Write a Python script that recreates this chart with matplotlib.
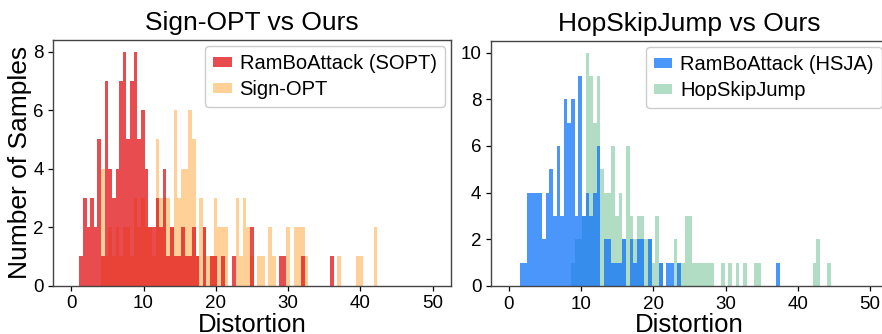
import matplotlib
matplotlib.use("Agg")
import matplotlib.pyplot as plt
import numpy as np

plt.rcParams['font.family'] = ['Liberation Sans', 'DejaVu Sans']

# ---------------- data ----------------
# Left panel: Sign-OPT vs Ours (shared histogram grid)
sopt_bin_start = 1.10
sopt_bin_width = 0.503
rambo_sopt_counts = [1, 3, 2, 3, 2, 5, 1, 7, 4, 3,
                     4, 7, 8, 5, 7, 8, 5, 6, 4, 2,
                     2, 3, 2, 4, 1, 2, 1, 1, 2, 1,
                     1, 2, 1, 0, 2, 0, 1, 1, 0, 1,
                     0, 0, 1, 0, 0, 0, 0, 2, 0, 0,
                     0, 0, 0, 0, 0, 1, 1, 0, 0, 0,
                     0, 1, 0, 0, 0, 0, 0, 0, 0, 1]
signopt_first_bin = 6
signopt_counts = [4, 1, 2, 1, 2, 1, 2, 2, 1, 3,
                  2, 3, 2, 2, 1, 5, 3, 3, 3, 2,
                  6, 3, 4, 4, 6, 5, 1, 3, 2, 1,
                  1, 3, 2, 2, 2, 0, 0, 3, 1, 3,
                  2, 1, 0, 1, 1, 0, 2, 1, 0, 0,
                  0, 2, 0, 2, 2, 2, 1, 0, 0, 0,
                  0, 0, 0, 0, 0, 1, 0, 0, 0, 0,
                  1, 1, 0, 0, 0, 2]

# Right panel: HopSkipJump vs Ours
hsja_bin_start = 1.52
hsja_bin_width = 0.5066
rambo_hsja_counts = [1, 1, 4, 4, 4, 4, 2, 4, 5, 3,
                     6, 3, 8, 7, 8, 3, 9, 3, 4, 3,
                     4, 6, 0, 2, 2, 1, 1, 1, 2, 0,
                     2, 1, 2, 2, 0, 2, 0, 0, 1, 0,
                     1, 1, 0, 1, 0, 0, 0, 0, 0, 0,
                     0, 0, 0, 0, 0, 0, 0, 0, 0, 0,
                     0, 0, 0, 0, 0, 0, 0, 0, 0, 0,
                     1]
hopskip_first_bin = 14
hopskip_counts = [1, 2, 2, 3,
                  10, 9, 7, 9,
                  5, 4, 4, 6, 3, 4, 2, 6, 3, 2, 3, 3,
                  2, 2, 1, 3, 1, 0, 0, 0, 2, 1, 1, 3, 3,
                  1, 1, 1, 1, 1, 1,
                  0, 0, 1, 0, 1, 0, 1, 0, 1, 0, 0, 1, 1,
                  0, 0, 0, 0, 0, 0, 0, 0, 0, 0, 0, 0, 0, 0,
                  1, 2, 0, 0, 1]

x_ticks = [0, 10, 20, 30, 40, 50]
left_yticks = [0, 2, 4, 6, 8]
right_yticks = [0, 2, 4, 6, 8, 10]

# ---------------- style ----------------
red = '#e41a1c'
orange = 'darkorange'
blue = (0.05, 0.45, 0.98)
green = (0.235, 0.667, 0.43)

W, H = 882, 334
fig = plt.figure(figsize=(W / 100, H / 100), dpi=100)
ax1 = fig.add_axes([53.3 / W, 1 - 285.7 / H, (450.7 - 53.3) / W, (285.7 - 40) / H])
ax2 = fig.add_axes([491 / W, 1 - 286 / H, (888 - 491) / W, (286 - 41) / H])


def draw(ax, start, width, under, under_first, over, over_color, under_color,
         over_alpha, under_alpha, labels):
    under_left = start + width * (under_first + np.arange(len(under)))
    over_left = start + width * np.arange(len(over))
    b_under = ax.bar(under_left, under, width=width, align='edge',
                     color=under_color, alpha=under_alpha, linewidth=0)
    b_over = ax.bar(over_left, over, width=width, align='edge',
                    color=over_color, alpha=over_alpha, linewidth=0)
    leg = ax.legend([b_over, b_under], labels, loc='upper right', fontsize=14.5,
                    handlelength=0.9, handleheight=0.35, handletextpad=0.4,
                    borderaxespad=0.3, borderpad=0.4, labelspacing=0.35,
                    edgecolor='#cccccc', framealpha=1.0)
    return leg


draw(ax1, sopt_bin_start, sopt_bin_width, signopt_counts, signopt_first_bin,
     rambo_sopt_counts, red, orange, 0.78, 0.4,
     ['RamBoAttack (SOPT)', 'Sign-OPT'])
draw(ax2, hsja_bin_start, hsja_bin_width, hopskip_counts, hopskip_first_bin,
     rambo_hsja_counts, blue, green, 0.75, 0.4,
     ['RamBoAttack (HSJA)', 'HopSkipJump'])

for ax, yt, ytop in [(ax1, left_yticks, 8.4), (ax2, right_yticks, 10.5)]:
    ax.set_xlim(-2.49, 52.5)
    ax.set_ylim(0, ytop)
    ax.set_xticks(x_ticks)
    ax.set_yticks(yt)
    ax.tick_params(labelsize=13.5, length=3.5, width=0.9)
    for s in ax.spines.values():
        s.set_color('#444444')
        s.set_linewidth(1.0)
    ax.set_xlabel('Distortion', fontsize=18.5, labelpad=0.5)

ax1.set_title('Sign-OPT vs Ours', fontsize=19, pad=7)
ax2.set_title('HopSkipJump vs Ours', fontsize=19, pad=7)
ax1.set_ylabel('Number of Samples', fontsize=19, labelpad=1)

fig.savefig('out.png', dpi=100)
